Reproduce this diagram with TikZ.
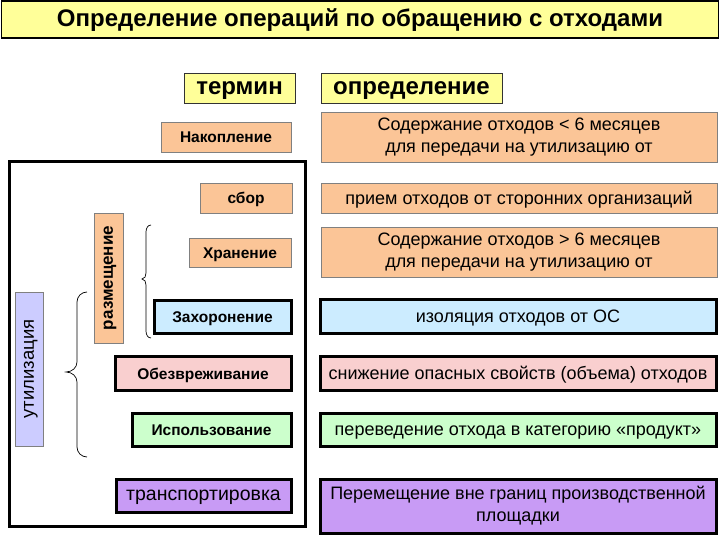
\documentclass[tikz,border=0pt]{standalone}
\usepackage{fontspec}
\setmainfont{Liberation Sans}
\definecolor{ttlyel}{HTML}{FFFF99}
\definecolor{peach}{HTML}{FBC597}
\definecolor{lblue}{HTML}{CCECFF}
\definecolor{lpink}{HTML}{F9CFCF}
\definecolor{lgreen}{HTML}{CCFFCC}
\definecolor{lpurp}{HTML}{C89BF5}
\definecolor{lavend}{HTML}{CCCCFF}
\tikzset{
  every node/.style={inner sep=0pt, outer sep=0pt},
  hdr/.style={draw=black!80, line width=0.8pt, fill=ttlyel, text height=12.5pt, text depth=0pt, font=\fontsize{24}{26}\selectfont\bfseries},
  pbox/.style={draw=black!50, line width=0.8pt, fill=peach},
  tbox/.style={draw=black, line width=3pt},
  lterm/.style={text height=12pt, text depth=0pt, font=\fontsize{15.5}{18}\selectfont\bfseries},
  defn/.style={font=\fontsize{18}{22}\selectfont},
  onedef/.style={text height=12.4pt, text depth=0pt},
}
\begin{document}
\begin{tikzpicture}[x=1pt,y=-1pt]
\useasboundingbox (0,0) rectangle (720,540);
\fill[white] (0,0) rectangle (720,540);
% title
\node[draw=black, line width=1.2pt, fill=ttlyel, minimum width=717pt, minimum height=37pt, text height=14pt, text depth=0pt,
  font=\fontsize{24}{26}\selectfont\bfseries] (title) at (360,19.5) {Определение операций по обращению с отходами};
% headers
\node[hdr, minimum width=111pt, minimum height=30pt] (termin) at (239.5,88) {термин};
\node[hdr, minimum width=181pt, minimum height=30pt] (opred) at (411.5,88) {определение};
% big frame
\draw[line width=3pt] (9,162) rectangle (305,526);
% terms
\node[pbox, lterm, minimum width=130pt, minimum height=30pt] (nakop) at (226,137) {Накопление};
\node[pbox, lterm, minimum width=92pt, minimum height=30pt] (sbor) at (246,198) {сбор};
\node[pbox, lterm, minimum width=102pt, minimum height=29pt] (hran) at (240,252.5) {Хранение};
\node[tbox, fill=lblue, lterm, minimum width=137pt, minimum height=33pt] (zahor) at (222.5,316.5) {Захоронение};
\node[tbox, fill=lpink, lterm, minimum width=176pt, minimum height=34pt] (obez) at (203,373) {Обезвреживание};
\node[tbox, fill=lgreen, lterm, minimum width=159pt, minimum height=33pt] (isp) at (211.5,429.5) {Использование};
\node[tbox, fill=lpurp, text height=10.1pt, text depth=0pt, font=\fontsize{19.5}{21}\selectfont, minimum width=175pt, minimum height=33pt] (trans) at (203.5,495.5) {транспортировка};
% vertical labels
\node[pbox, text height=8.8pt, text depth=0pt, rotate=90, minimum width=130pt, minimum height=29pt, font=\fontsize{17}{19}\selectfont\bfseries] (razm) at (108.5,278) {размещение};
\node[draw=black!50, line width=0.8pt, fill=lavend, text height=9.6pt, text depth=0pt, rotate=90, minimum width=154pt, minimum height=28pt, font=\fontsize{18.5}{20}\selectfont] (util) at (29,369) {утилизация};
% definitions
\node[pbox, defn, align=center, minimum width=396pt, minimum height=50pt] (d1) at (519,137) {Содержание отходов < 6 месяцев\\для передачи на утилизацию от};
\node[pbox, defn, onedef, minimum width=396pt, minimum height=30pt] (d2) at (519,198) {прием отходов от сторонних организаций};
\node[pbox, defn, align=center, minimum width=396pt, minimum height=50pt] (d3) at (519,252) {Содержание отходов > 6 месяцев\\для передачи на утилизацию от};
\node[tbox, fill=lblue, defn, onedef, minimum width=396pt, minimum height=34pt] (d4) at (518,316) {изоляция отходов от ОС};
\node[tbox, fill=lpink, defn, onedef, minimum width=396pt, minimum height=34pt] (d5) at (518,373) {снижение опасных свойств (объема) отходов};
\node[tbox, fill=lgreen, defn, onedef, minimum width=396pt, minimum height=33pt] (d6) at (518,429.5) {переведение отхода в категорию «продукт»};
\node[tbox, fill=lpurp, defn, align=center, minimum width=396pt, minimum height=54pt] (d7) at (518,506) {Перемещение вне границ производственной\\площадки};
% braces
\draw[line width=0.7pt] (151,225) to[out=180,in=90] (146,232) -- (146,273) to[out=270,in=0] (142,279)
  to[out=0,in=90] (146,285) -- (146,331) to[out=270,in=180] (151,338);
\draw[line width=0.7pt] (87,292) to[out=180,in=90] (77,302) -- (77,362) to[out=270,in=0] (66,372)
  to[out=0,in=90] (77,382) -- (77,447) to[out=270,in=180] (87,457);
\end{tikzpicture}
\end{document}
